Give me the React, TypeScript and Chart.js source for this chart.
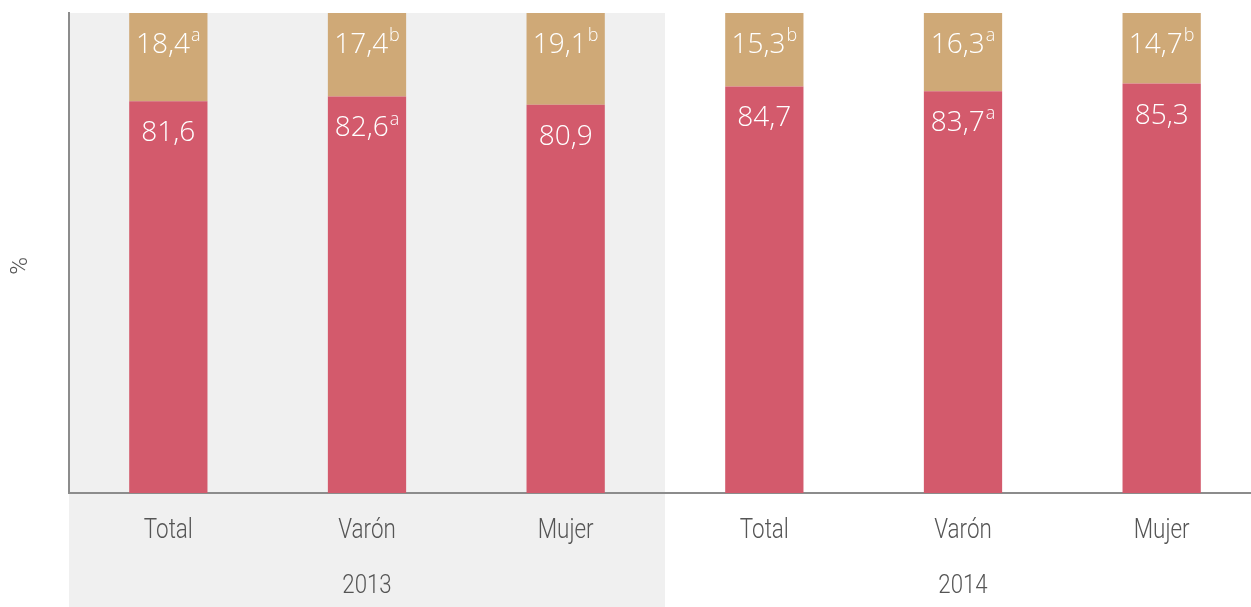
import React, { useEffect, useRef } from 'react';
import { Chart, registerables } from 'chart.js';

Chart.register(...registerables);

const categories = ['Total', 'Varón', 'Mujer', 'Total', 'Varón', 'Mujer'];
const years = ['2013', '2014'];
const redValues = [81.6, 82.6, 80.9, 84.7, 83.7, 85.3];
const tanValues = [18.4, 17.4, 19.1, 15.3, 16.3, 14.7];
const redSup = ['', 'a', '', '', 'a', ''];
const tanSup = ['a', 'b', 'b', 'b', 'a', 'b'];

const RED = '#D35A6C';
const TAN = '#CFA977';
const BAND = '#F0F0F0';
const AXIS = '#8C8C8C';
const TEXT = '#555555';
const NUM_FONT = '"Open Sans", "Noto Sans", sans-serif';
const LABEL_FONT = 'Roboto, "DejaVu Sans Condensed", sans-serif';

const fmt = (v: number) => v.toFixed(1).replace('.', ',');

function narrowText(ctx: any, text: string, x: number, y: number, sx: number) {
  ctx.save();
  ctx.translate(x, y);
  ctx.scale(sx, 1);
  ctx.fillText(text, 0, 0);
  ctx.restore();
}

const customPlugin = {
  id: 'custom',
  beforeDraw(chart: any) {
    const { ctx, chartArea, scales } = chart;
    const x = scales.x;
    const split = (x.getPixelForValue(2) + x.getPixelForValue(3)) / 2;
    ctx.save();
    ctx.fillStyle = BAND;
    ctx.fillRect(chartArea.left, chartArea.top, split - chartArea.left, chart.height - chartArea.top);
    ctx.restore();
  },
  afterDatasetsDraw(chart: any) {
    const { ctx } = chart;
    const sups = [redSup, tanSup];
    const vals = [redValues, tanValues];
    ctx.save();
    ctx.fillStyle = '#FFFFFF';
    ctx.textBaseline = 'middle';
    chart.data.datasets.forEach((_: any, di: number) => {
      const meta = chart.getDatasetMeta(di);
      meta.data.forEach((bar: any, i: number) => {
        const main = fmt(vals[di][i]);
        const sup = sups[di][i];
        ctx.font = `300 28px ${NUM_FONT}`;
        const wMain = ctx.measureText(main).width;
        ctx.font = `300 18px ${NUM_FONT}`;
        const wSup = sup ? ctx.measureText(sup).width + 1 : 0;
        const total = wMain + wSup;
        const startX = bar.x - total / 2;
        const cy = bar.y + 32;
        ctx.textAlign = 'left';
        ctx.font = `300 28px ${NUM_FONT}`;
        ctx.fillText(main, startX, cy);
        if (sup) {
          ctx.font = `300 18px ${NUM_FONT}`;
          ctx.fillText(sup, startX + wMain + 1, cy - 9);
        }
      });
    });
    ctx.restore();
  },
  afterDraw(chart: any) {
    const { ctx, scales } = chart;
    const x = scales.x;
    ctx.save();
    ctx.fillStyle = TEXT;
    ctx.textAlign = 'center';
    ctx.textBaseline = 'middle';
    ctx.font = `300 28px ${LABEL_FONT}`;
    categories.forEach((c, i) => {
      narrowText(ctx, c, x.getPixelForValue(i), 531, 0.8);
    });
    ctx.font = `300 25px ${LABEL_FONT}`;
    years.forEach((yr, g) => {
      narrowText(ctx, yr, x.getPixelForValue(g * 3 + 1), 587, 0.89);
    });
    ctx.translate(21, 266);
    ctx.rotate(-Math.PI / 2);
    ctx.font = `300 24px ${LABEL_FONT}`;
    ctx.fillText('%', 0, 0);
    ctx.restore();
  },
};

export default function App() {
  const ref = useRef<HTMLCanvasElement | null>(null);
  useEffect(() => {
    document.body.style.margin = '0';
    if (!ref.current) return;
    const chart = new Chart(ref.current, {
      type: 'bar',
      data: {
        labels: categories,
        datasets: [
          { label: 'a', data: redValues, backgroundColor: RED, borderWidth: 0 },
          { label: 'b', data: tanValues, backgroundColor: TAN, borderWidth: 0 },
        ],
      },
      options: {
        animation: false,
        responsive: false,
        maintainAspectRatio: false,
        layout: { padding: { top: 13, left: 0, right: 0, bottom: 0 } },
        datasets: { bar: { barPercentage: 1, categoryPercentage: 0.394 } },
        plugins: { legend: { display: false }, tooltip: { enabled: false } },
        scales: {
          x: {
            stacked: true,
            grid: { display: false, drawTicks: false },
            border: { display: true, color: AXIS, width: 2 },
            ticks: { display: false },
            afterFit: (s: any) => { s.height = 114; },
          },
          y: {
            stacked: true,
            min: 0,
            max: 100,
            grid: { display: false, drawTicks: false },
            border: { display: true, color: AXIS, width: 2 },
            ticks: { display: false },
            afterFit: (s: any) => { s.width = 69; },
          },
        },
      },
      plugins: [customPlugin],
    });
    return () => chart.destroy();
  }, []);
  return (
    <div style={{ position: 'absolute', left: 0, top: 0, width: 1251, height: 607, overflow: 'hidden' }}>
      <canvas ref={ref} width={1261} height={607} style={{ display: 'block' }} />
    </div>
  );
}
